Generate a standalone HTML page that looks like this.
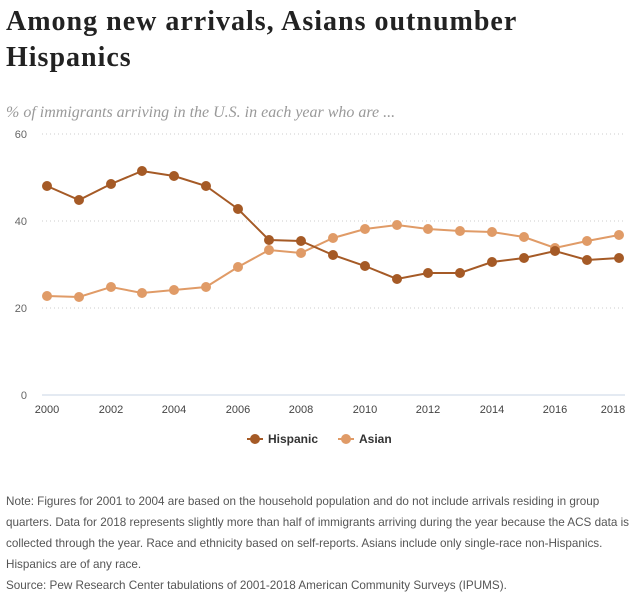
<!DOCTYPE html>
<html><head><meta charset="utf-8"><style>
body{margin:0;width:640px;height:601px;background:#fff;overflow:hidden;position:relative;font-family:"Liberation Sans",sans-serif}
.t{position:absolute;left:6px;top:4px;font-family:"Liberation Serif",serif;font-weight:bold;font-size:28px;letter-spacing:1px;line-height:36px;color:#222}
.s{position:absolute;left:6px;top:104px;font-family:"Liberation Serif",serif;font-style:italic;font-size:16px;color:#999}
.n{position:absolute;left:6px;top:491px;font-size:11.7px;line-height:21px;color:#555;width:625px}
</style></head><body>
<div class="t">Among new arrivals, Asians outnumber<br>Hispanics</div>
<div class="s">% of immigrants arriving in the U.S. in each year who are ...</div>
<svg width="640" height="601" style="position:absolute;left:0;top:0">
<g stroke="#ccc" stroke-dasharray="1,3" stroke-width="1">
<line x1="42" x2="625" y1="134" y2="134"/><line x1="42" x2="625" y1="221" y2="221"/><line x1="42" x2="625" y1="308" y2="308"/></g>
<line x1="42" x2="625" y1="395" y2="395" stroke="#c8d4e6"/>
<g font-size="11" fill="#666" text-anchor="end"><text x="27" y="138">60</text><text x="27" y="225">40</text><text x="27" y="312">20</text><text x="27" y="399">0</text></g>
<g font-size="11" fill="#444" text-anchor="middle">
<text x="47" y="413">2000</text><text x="111" y="413">2002</text><text x="174" y="413">2004</text><text x="238" y="413">2006</text><text x="301" y="413">2008</text><text x="365" y="413">2010</text><text x="428" y="413">2012</text><text x="492" y="413">2014</text><text x="555" y="413">2016</text><text x="613" y="413">2018</text></g>
<polyline fill="none" stroke="#e09b67" stroke-width="2" points="47,296 79,297 111,287 142,293 174,290 206,287 238,267 269,250 301,253 333,238 365,229 397,225 428,229 460,231 492,232 524,237 555,248 587,241 619,235"/>
<g fill="#e09b67"><circle cx="47" cy="296" r="5"/><circle cx="79" cy="297" r="5"/><circle cx="111" cy="287" r="5"/><circle cx="142" cy="293" r="5"/><circle cx="174" cy="290" r="5"/><circle cx="206" cy="287" r="5"/><circle cx="238" cy="267" r="5"/><circle cx="269" cy="250" r="5"/><circle cx="301" cy="253" r="5"/><circle cx="333" cy="238" r="5"/><circle cx="365" cy="229" r="5"/><circle cx="397" cy="225" r="5"/><circle cx="428" cy="229" r="5"/><circle cx="460" cy="231" r="5"/><circle cx="492" cy="232" r="5"/><circle cx="524" cy="237" r="5"/><circle cx="555" cy="248" r="5"/><circle cx="587" cy="241" r="5"/><circle cx="619" cy="235" r="5"/></g>
<polyline fill="none" stroke="#a55a26" stroke-width="2" points="47,186 79,200 111,184 142,171 174,176 206,186 238,209 269,240 301,241 333,255 365,266 397,279 428,273 460,273 492,262 524,258 555,251 587,260 619,258"/>
<g fill="#a55a26"><circle cx="47" cy="186" r="5"/><circle cx="79" cy="200" r="5"/><circle cx="111" cy="184" r="5"/><circle cx="142" cy="171" r="5"/><circle cx="174" cy="176" r="5"/><circle cx="206" cy="186" r="5"/><circle cx="238" cy="209" r="5"/><circle cx="269" cy="240" r="5"/><circle cx="301" cy="241" r="5"/><circle cx="333" cy="255" r="5"/><circle cx="365" cy="266" r="5"/><circle cx="397" cy="279" r="5"/><circle cx="428" cy="273" r="5"/><circle cx="460" cy="273" r="5"/><circle cx="492" cy="262" r="5"/><circle cx="524" cy="258" r="5"/><circle cx="555" cy="251" r="5"/><circle cx="587" cy="260" r="5"/><circle cx="619" cy="258" r="5"/></g>
<line x1="247" x2="263" y1="439" y2="439" stroke="#a55a26" stroke-width="2"/><circle cx="255" cy="439" r="5" fill="#a55a26"/>
<text x="268" y="443" font-size="12" font-weight="bold" fill="#333">Hispanic</text>
<line x1="338" x2="354" y1="439" y2="439" stroke="#e09b67" stroke-width="2"/><circle cx="346" cy="439" r="5" fill="#e09b67"/>
<text x="359" y="443" font-size="12" font-weight="bold" fill="#333">Asian</text>
</svg>
<div class="n">Note: Figures for 2001 to 2004 are based on the household population and do not include arrivals residing in group quarters. Data for 2018 represents slightly more than half of immigrants arriving during the year because the ACS data is collected through the year. Race and ethnicity based on self-reports. Asians include only single-race non-Hispanics. Hispanics are of any race.<br>Source: Pew Research Center tabulations of 2001-2018 American Community Surveys (IPUMS).</div>
</body></html>
